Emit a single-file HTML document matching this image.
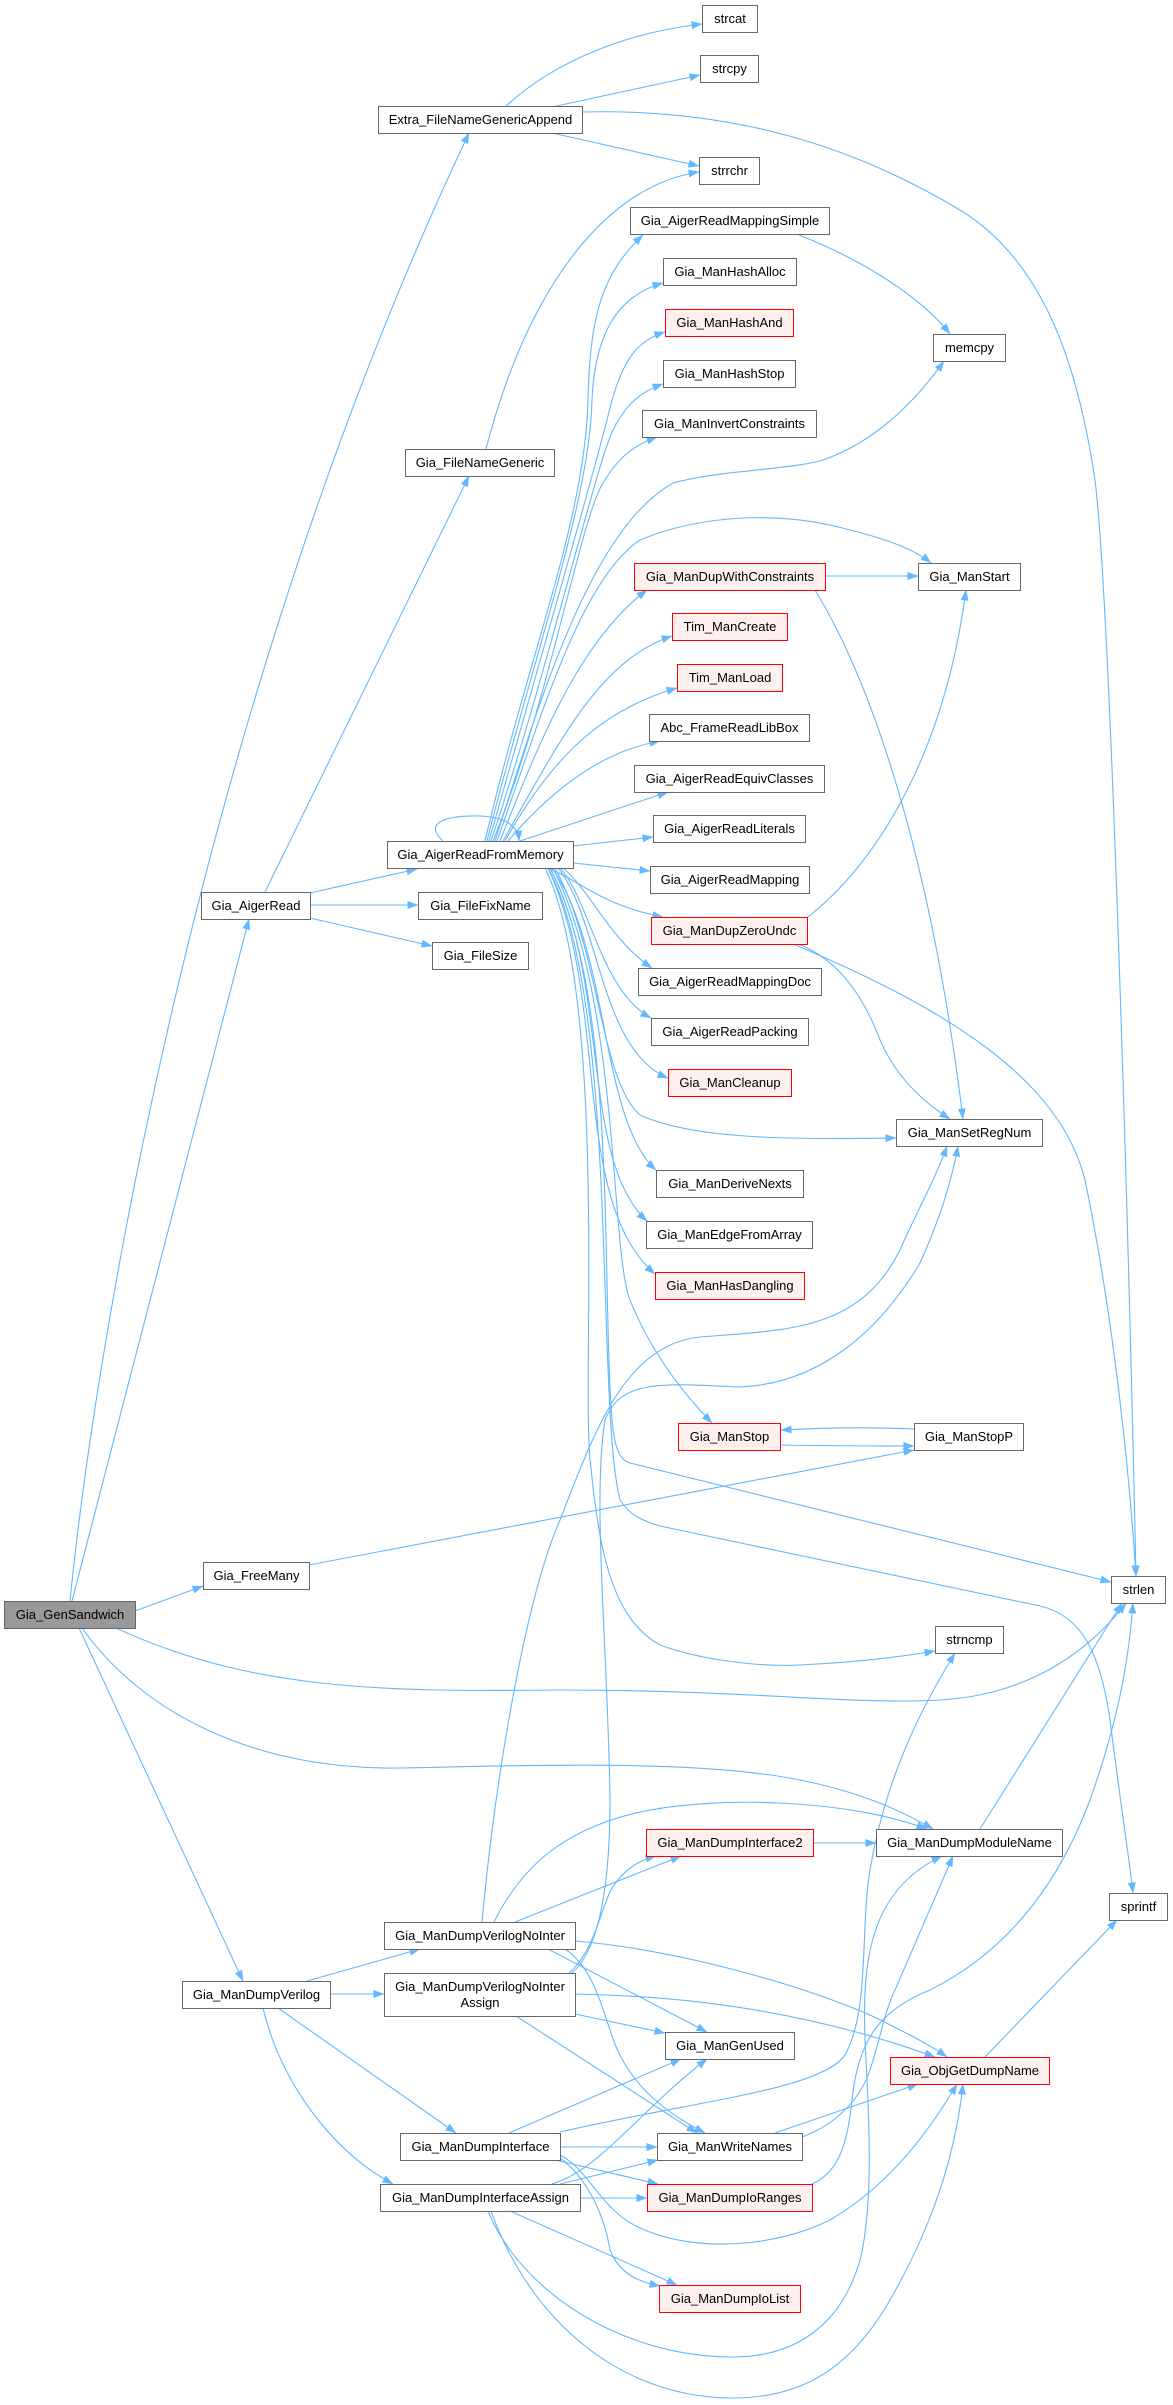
<!DOCTYPE html>
<html><head><meta charset="utf-8">
<style>
html,body{margin:0;padding:0;background:#fff;}
svg{display:block;}
text{font-family:"Liberation Sans",Arial,sans-serif;font-size:13px;fill:#000;text-anchor:middle;}
.e{fill:none;stroke:#63b8ff;stroke-width:1.1;marker-end:url(#ah);}
.n{fill:#fff;stroke:#666;stroke-width:1;}
.r{fill:#fff0f0;stroke:#ff0000;stroke-width:1;}
.g{fill:#999;stroke:#666;stroke-width:1;}
</style></head>
<body>
<svg width="1173" height="2405" viewBox="0 0 1173 2405" xmlns="http://www.w3.org/2000/svg">
<defs>
<marker id="ah" markerWidth="11" markerHeight="8" refX="10.5" refY="4" orient="auto" markerUnits="userSpaceOnUse">
<path d="M0,0 L11,4 L0,8 z" fill="#63b8ff"/>
</marker>
</defs>
<rect width="1173" height="2405" fill="#fff"/>
<g>
<path class="e" d="M505,107 C555,60 630,32 702,24"/>
<path class="e" d="M552,107 L700,75"/>
<path class="e" d="M552,133 L699,166"/>
<path class="e" d="M582,112 C740,108 860,150 960,210 C1050,265 1080,380 1095,480 C1110,600 1128,1200 1136,1576"/>
<path class="e" d="M486,449 C530,280 610,185 699,172"/>
<path class="e" d="M799,235 C850,255 915,290 950,334"/>
<path class="e" d="M825,576 L918,576"/>
<path class="e" d="M815,590 C870,680 930,850 963,1119"/>
<path class="e" d="M808,917 C880,860 945,750 966,590"/>
<path class="e" d="M798,944 C840,960 865,1000 880,1040 C895,1075 920,1100 950,1119"/>
<path class="e" d="M793,944 C950,1010 1060,1080 1085,1180 C1110,1300 1128,1450 1136,1576"/>
<path class="e" d="M914,1429 C870,1427 820,1428 781,1430"/>
<path class="e" d="M780,1445 C830,1446 870,1446 914,1446"/>
<path class="e" d="M309,1565 L914,1450"/>
<path class="e" d="M135,1611 L203,1586"/>
<path class="e" d="M310,893 L417,869"/>
<path class="e" d="M310,905 L418,905"/>
<path class="e" d="M310,918 L432,946"/>
<path class="e" d="M265,892 L469,476"/>
<path class="e" d="M72,1601 L249,919"/>
<path class="e" d="M70,1601 C95,1350 200,700 469,133"/>
<path class="e" d="M79,1628 L243,1981"/>
<path class="e" d="M116,1628 C250,1690 380,1692 560,1690 C750,1690 850,1705 940,1700 C1030,1695 1090,1650 1126,1603"/>
<path class="e" d="M82,1628 C140,1710 250,1770 400,1768 C550,1765 700,1760 800,1780 C860,1792 900,1810 933,1829"/>
<path class="e" d="M307,1981 L420,1949"/>
<path class="e" d="M330,1994 L384,1994"/>
<path class="e" d="M278,2008 L456,2133"/>
<path class="e" d="M263,2008 C280,2080 330,2150 393,2184"/>
<path class="e" d="M482,1922 C495,1780 525,1600 560,1520 C595,1430 625,1345 700,1337 C790,1330 860,1330 900,1250 C915,1215 935,1180 947,1146"/>
<path class="e" d="M572,1973 C598,1950 610,1890 610,1800 C608,1650 592,1500 605,1420 C620,1380 660,1383 737,1387 C820,1385 880,1330 920,1263 C935,1230 950,1190 958,1146"/>
<path class="e" d="M494,1922 C520,1870 560,1830 640,1812 C720,1795 850,1800 927,1829"/>
<path class="e" d="M515,1922 L681,1856"/>
<path class="e" d="M569,1973 C595,1950 600,1910 612,1888 C625,1868 640,1860 656,1856"/>
<path class="e" d="M575,1941 C680,1950 800,1985 870,2015 C905,2032 930,2045 947,2057"/>
<path class="e" d="M575,1994 C700,1996 820,2015 935,2057"/>
<path class="e" d="M575,2014 L665,2033"/>
<path class="e" d="M548,1949 L707,2032"/>
<path class="e" d="M565,1949 C590,1965 600,2000 610,2030 C625,2080 660,2110 705,2133"/>
<path class="e" d="M516,2016 L697,2133"/>
<path class="e" d="M509,2133 L681,2059"/>
<path class="e" d="M560,2132 C700,2100 820,2090 845,2055 C870,2010 860,1930 870,1870 C885,1780 920,1710 955,1653"/>
<path class="e" d="M560,2147 L657,2147"/>
<path class="e" d="M560,2155 C590,2170 600,2210 640,2228 C700,2255 780,2245 830,2220 C890,2185 930,2130 957,2084"/>
<path class="e" d="M555,2160 L658,2184"/>
<path class="e" d="M560,2158 C590,2180 605,2220 610,2250 C620,2275 640,2282 660,2286"/>
<path class="e" d="M552,2184 C600,2170 640,2110 707,2059"/>
<path class="e" d="M560,2184 L658,2160"/>
<path class="e" d="M580,2198 L647,2198"/>
<path class="e" d="M510,2211 L677,2285"/>
<path class="e" d="M488,2211 C520,2290 620,2357 733,2357 C790,2357 840,2330 860,2260 C875,2200 868,2100 865,2040 C862,1960 870,1890 942,1856"/>
<path class="e" d="M491,2211 C530,2320 620,2398 733,2398 C800,2398 850,2370 890,2300 C930,2230 955,2160 963,2084"/>
<path class="e" d="M775,2133 L918,2084"/>
<path class="e" d="M802,2137 C835,2125 860,2100 870,2070 C880,2040 885,2010 895,1990 L953,1856"/>
<path class="e" d="M812,2184 C840,2172 848,2140 852,2100 C858,2040 880,2010 930,1990 C1010,1950 1060,1880 1090,1800 C1115,1730 1128,1670 1133,1603"/>
<path class="e" d="M980,1829 L1122,1603"/>
<path class="e" d="M985,2057 L1117,1920"/>
<path class="e" d="M813,1843 L876,1843"/>
<path class="e" d="M563,868 C590,890 610,940 652,968"/>
<path class="e" d="M560,868 C590,900 600,990 651,1018"/>
<path class="e" d="M558,868 C600,920 600,1050 668,1078"/>
<path class="e" d="M555,868 C600,950 600,1080 640,1115 C690,1138 780,1140 896,1138"/>
<path class="e" d="M552,868 C610,950 600,1120 656,1170"/>
<path class="e" d="M550,868 C610,980 580,1160 647,1221"/>
<path class="e" d="M548,868 C610,1000 570,1200 655,1274"/>
<path class="e" d="M553,868 C620,1000 610,1250 630,1300 C650,1350 680,1390 712,1423"/>
<path class="e" d="M550,868 C620,1000 600,1300 613,1430 C616,1450 620,1460 630,1463 L1111,1582"/>
<path class="e" d="M548,868 C620,1000 595,1400 620,1500 C630,1515 640,1520 660,1526 L1040,1606 C1080,1615 1100,1650 1110,1720 C1120,1800 1128,1850 1133,1893"/>
<path class="e" d="M545,868 C610,1000 580,1400 591,1468 C600,1560 615,1620 660,1645 C700,1660 760,1667 800,1665 C860,1662 900,1657 935,1651"/>
<path class="e" d="M485,841 C530,650 585,520 588,400 C590,320 600,275 643,235"/>
<path class="e" d="M487,841 C535,650 590,500 592,400 C595,330 620,295 663,283"/>
<path class="e" d="M489,841 C540,660 595,470 612,400 C625,355 640,340 665,332"/>
<path class="e" d="M491,841 C545,680 595,470 612,432 C625,405 640,392 663,384"/>
<path class="e" d="M493,841 C550,700 580,520 603,483 C620,455 635,445 657,437"/>
<path class="e" d="M495,841 C540,700 590,530 673,483 C720,470 790,470 823,460 C880,440 920,395 944,361"/>
<path class="e" d="M497,841 C540,720 580,580 640,540 C700,515 780,510 850,530 C890,540 915,550 931,563"/>
<path class="e" d="M500,841 C540,740 580,640 647,590"/>
<path class="e" d="M503,841 C560,740 600,660 672,636"/>
<path class="e" d="M505,841 C550,760 600,710 677,688"/>
<path class="e" d="M508,841 C560,780 610,750 660,741"/>
<path class="e" d="M520,841 L668,792"/>
<path class="e" d="M573,846 L653,837"/>
<path class="e" d="M573,863 L650,871"/>
<path class="e" d="M547,868 C580,880 600,905 663,917"/>
<path class="e" d="M443,841 C425,825 440,815 480,816 C505,817 518,825 519,841"/>
</g>
<g>
<rect class="n" x="702.5" y="5.5" width="55" height="27"/><text x="730" y="23">strcat</text>
<rect class="n" x="700.5" y="55.5" width="58" height="27"/><text x="729.5" y="73">strcpy</text>
<rect class="n" x="378.5" y="106.5" width="204" height="27"/><text x="480.5" y="124">Extra_FileNameGenericAppend</text>
<rect class="n" x="699.5" y="157.5" width="60" height="27"/><text x="729.5" y="175">strrchr</text>
<rect class="n" x="630.5" y="207.5" width="199" height="27"/><text x="730" y="225">Gia_AigerReadMappingSimple</text>
<rect class="n" x="663.5" y="258.5" width="133" height="27"/><text x="730" y="276">Gia_ManHashAlloc</text>
<rect class="r" x="665.5" y="309.5" width="128" height="27"/><text x="729.5" y="327">Gia_ManHashAnd</text>
<rect class="n" x="663.5" y="360.5" width="132" height="27"/><text x="729.5" y="378">Gia_ManHashStop</text>
<rect class="n" x="642.5" y="410.5" width="174" height="27"/><text x="729.5" y="428">Gia_ManInvertConstraints</text>
<rect class="n" x="933.5" y="334.5" width="72" height="27"/><text x="969.5" y="352">memcpy</text>
<rect class="n" x="405.5" y="449.5" width="149" height="27"/><text x="480" y="467">Gia_FileNameGeneric</text>
<rect class="r" x="634.5" y="563.5" width="191" height="27"/><text x="730" y="581">Gia_ManDupWithConstraints</text>
<rect class="n" x="918.5" y="563.5" width="102" height="27"/><text x="969.5" y="581">Gia_ManStart</text>
<rect class="r" x="672.5" y="613.5" width="115" height="27"/><text x="730" y="631">Tim_ManCreate</text>
<rect class="r" x="677.5" y="664.5" width="105" height="27"/><text x="730" y="682">Tim_ManLoad</text>
<rect class="n" x="649.5" y="714.5" width="160" height="27"/><text x="729.5" y="732">Abc_FrameReadLibBox</text>
<rect class="n" x="634.5" y="765.5" width="190" height="27"/><text x="729.5" y="783">Gia_AigerReadEquivClasses</text>
<rect class="n" x="653.5" y="815.5" width="152" height="27"/><text x="729.5" y="833">Gia_AigerReadLiterals</text>
<rect class="n" x="387.5" y="841.5" width="186" height="27"/><text x="480.5" y="859">Gia_AigerReadFromMemory</text>
<rect class="n" x="650.5" y="866.5" width="159" height="27"/><text x="730" y="884">Gia_AigerReadMapping</text>
<rect class="n" x="201.5" y="892.5" width="109" height="27"/><text x="256" y="910">Gia_AigerRead</text>
<rect class="n" x="418.5" y="892.5" width="124" height="27"/><text x="480.5" y="910">Gia_FileFixName</text>
<rect class="r" x="651.5" y="917.5" width="156" height="27"/><text x="729.5" y="935">Gia_ManDupZeroUndc</text>
<rect class="n" x="432.5" y="942.5" width="96" height="27"/><text x="480.5" y="960">Gia_FileSize</text>
<rect class="n" x="638.5" y="968.5" width="183" height="27"/><text x="730" y="986">Gia_AigerReadMappingDoc</text>
<rect class="n" x="651.5" y="1018.5" width="157" height="27"/><text x="730" y="1036">Gia_AigerReadPacking</text>
<rect class="r" x="668.5" y="1069.5" width="123" height="27"/><text x="730" y="1087">Gia_ManCleanup</text>
<rect class="n" x="896.5" y="1119.5" width="146" height="27"/><text x="969.5" y="1137">Gia_ManSetRegNum</text>
<rect class="n" x="656.5" y="1170.5" width="147" height="27"/><text x="730" y="1188">Gia_ManDeriveNexts</text>
<rect class="n" x="646.5" y="1221.5" width="166" height="27"/><text x="729.5" y="1239">Gia_ManEdgeFromArray</text>
<rect class="r" x="655.5" y="1272.5" width="149" height="27"/><text x="730" y="1290">Gia_ManHasDangling</text>
<rect class="r" x="678.5" y="1423.5" width="102" height="27"/><text x="729.5" y="1441">Gia_ManStop</text>
<rect class="n" x="914.5" y="1423.5" width="109" height="27"/><text x="969" y="1441">Gia_ManStopP</text>
<rect class="n" x="203.5" y="1562.5" width="106" height="27"/><text x="256.5" y="1580">Gia_FreeMany</text>
<rect class="n" x="1111.5" y="1576.5" width="54" height="27"/><text x="1138.5" y="1594">strlen</text>
<rect class="g" x="4.5" y="1601.5" width="131" height="27"/><text x="70" y="1619">Gia_GenSandwich</text>
<rect class="n" x="935.5" y="1626.5" width="68" height="27"/><text x="969.5" y="1644">strncmp</text>
<rect class="r" x="646.5" y="1829.5" width="167" height="27"/><text x="730" y="1847">Gia_ManDumpInterface2</text>
<rect class="n" x="876.5" y="1829.5" width="186" height="27"/><text x="969.5" y="1847">Gia_ManDumpModuleName</text>
<rect class="n" x="1109.5" y="1893.5" width="58" height="27"/><text x="1138.5" y="1911">sprintf</text>
<rect class="n" x="384.5" y="1922.5" width="191" height="27"/><text x="480" y="1940">Gia_ManDumpVerilogNoInter</text>
<rect class="n" x="182.5" y="1981.5" width="148" height="27"/><text x="256.5" y="1999">Gia_ManDumpVerilog</text>
<rect class="n" x="384.5" y="1973.5" width="191" height="43"/><text x="480" y="1991">Gia_ManDumpVerilogNoInter</text><text x="480" y="2007">Assign</text>
<rect class="n" x="665.5" y="2032.5" width="129" height="27"/><text x="730" y="2050">Gia_ManGenUsed</text>
<rect class="r" x="890.5" y="2057.5" width="159" height="27"/><text x="970" y="2075">Gia_ObjGetDumpName</text>
<rect class="n" x="400.5" y="2133.5" width="160" height="27"/><text x="480.5" y="2151">Gia_ManDumpInterface</text>
<rect class="n" x="657.5" y="2133.5" width="145" height="27"/><text x="730" y="2151">Gia_ManWriteNames</text>
<rect class="n" x="380.5" y="2184.5" width="200" height="27"/><text x="480.5" y="2202">Gia_ManDumpInterfaceAssign</text>
<rect class="r" x="647.5" y="2184.5" width="165" height="27"/><text x="730" y="2202">Gia_ManDumpIoRanges</text>
<rect class="r" x="659.5" y="2285.5" width="141" height="27"/><text x="730" y="2303">Gia_ManDumpIoList</text>
</g>
</svg>
</body></html>
